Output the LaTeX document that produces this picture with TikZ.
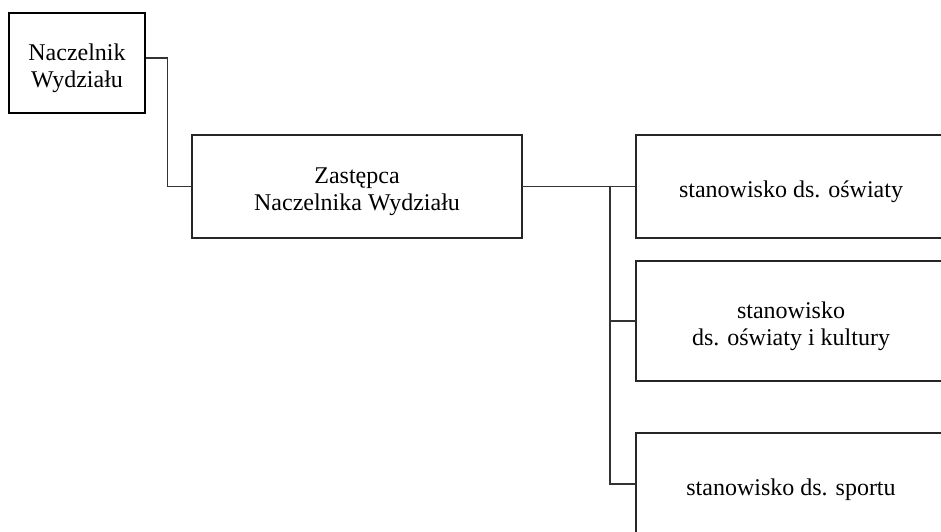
\documentclass[tikz,border=0pt]{standalone}
\usepackage{fontspec}
\setmainfont{Liberation Serif}
\usetikzlibrary{positioning}

\begin{document}
\begin{tikzpicture}[x=0.5pt, y=-0.5pt, line cap=round, line join=miter,
  unit/.style={draw=black!85, line width=0.6pt, align=center, inner sep=0pt,
    text height=14pt, font=\fontsize{12}{13.5}\selectfont},
  twoline/.style={unit, text height=27pt},
  head/.style={twoline, draw=black, line width=1.3pt},
  link/.style={draw=black!80, line width=0.6pt}]

  % Canvas
  \useasboundingbox (0,0) rectangle (941,531);
  \clip (0,0) rectangle (941,531);

  % Head of the department
  \node[head, minimum width=68pt, minimum height=50pt] (nacz) at (77,63)
    {Naczelnik\\Wydziału};

  % Deputy
  \node[twoline, minimum width=165pt, minimum height=51.5pt] (zast) at (357,186.5)
    {Zastępca\\Naczelnika Wydziału};

  % Posts
  \node[unit, minimum width=155pt, minimum height=51.5pt] (oswiata) at (791,186.5)
    {stanowisko ds. oświaty};
  \node[twoline, minimum width=155pt, minimum height=60pt] (kultura) at (791,321)
    {stanowisko\\ds. oświaty i kultury};
  \node[unit, minimum width=155pt, minimum height=51pt] (sport) at (791,484)
    {stanowisko ds. sportu};

  % Connectors
  \coordinate (trunk) at (610,186.5);
  \draw[link] ([yshift=2.5pt]nacz.east) -- ++(21,0) |- (zast.west);
  \draw[link] (zast.east) -- (oswiata.west);
  \draw[link] (trunk) |- (kultura.west);
  \draw[link] (trunk) |- (sport.west);

\end{tikzpicture}
\end{document}
